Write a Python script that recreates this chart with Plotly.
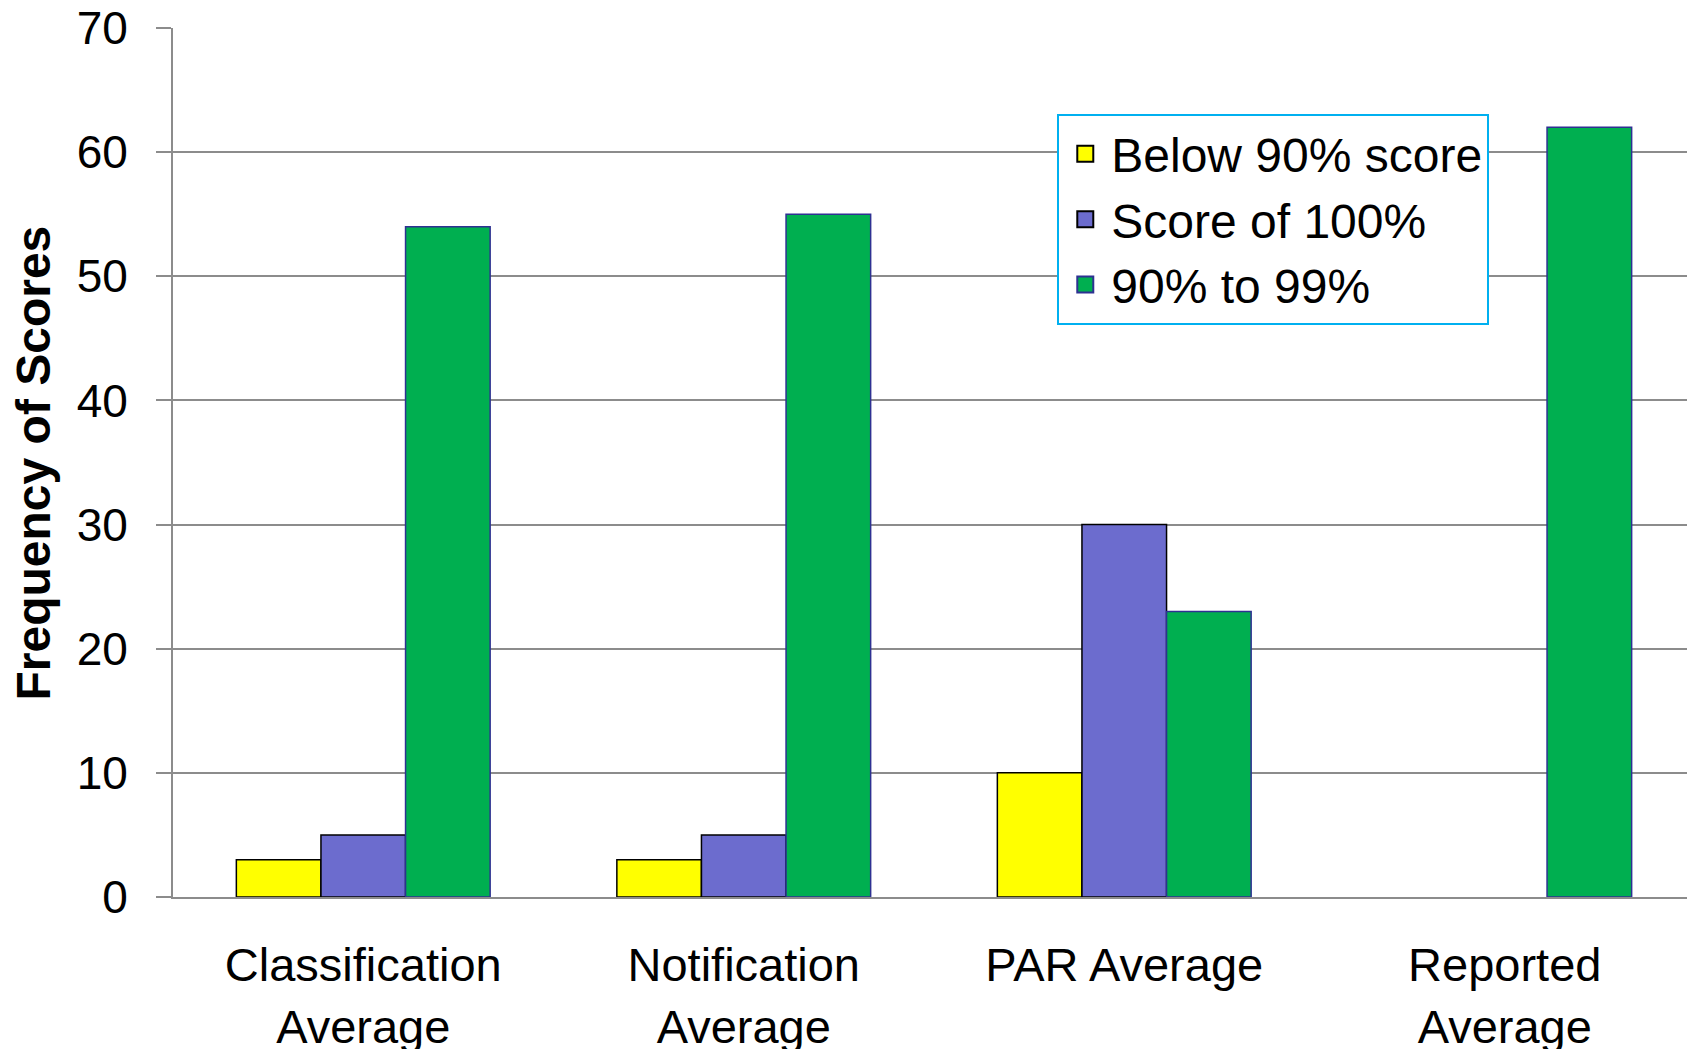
import plotly.graph_objects as go

categories = ["Classification<br>Average", "Notification<br>Average", "PAR Average", "Reported<br>Average"]
series_names = ["Below 90% score", "Score of 100%", "90% to 99%"]
below_90 = [3, 3, 10, None]
score_100 = [5, 5, 30, None]
p90_99 = [54, 55, 23, 62]
y_ticks = [0, 10, 20, 30, 40, 50, 60, 70]

FONT = "Arial, Liberation Sans, sans-serif"
GRID = "#8c8c8c"
fills = ["#FFFF00", "#6C6CCE", "#00AF50"]
edges = ["#000000", "#000000", "#2E3192"]

fig = go.Figure()
for name, vals, fc, ec in zip(series_names, [below_90, score_100, p90_99], fills, edges):
    fig.add_trace(go.Bar(name=name, x=categories, y=vals, showlegend=False, legendgroup=name,
                         marker=dict(color=fc, line=dict(color=ec, width=1.5))))
# legend entries with larger square swatches
for name, fc, ec in zip(series_names, fills, edges):
    fig.add_trace(go.Scatter(name=name, x=[None], y=[None], mode="markers", legendgroup=name,
                             marker=dict(symbol="square", size=22, color=fc,
                                         line=dict(color=ec, width=2))))

fig.update_layout(
    width=1687, height=1041,
    margin=dict(l=165, r=0, t=20, b=152),
    paper_bgcolor="white", plot_bgcolor="white",
    barmode="group", bargap=0.333, bargroupgap=0,
    font=dict(family=FONT, size=47, color="black"),
    showlegend=True,
    legend=dict(x=0.581, y=0.901, xanchor="left", yanchor="top",
                bordercolor="#00B0F0", borderwidth=2, bgcolor="white",
                font=dict(size=48), traceorder="normal", tracegroupgap=9,
                itemwidth=42),
    xaxis=dict(showgrid=False, showline=True, linecolor=GRID, linewidth=2,
               ticks="", tickfont=dict(size=47), ticklabelstandoff=26,
               range=[-0.5, 3.5], fixedrange=True, automargin=False),
    yaxis=dict(range=[0, 70], tickvals=y_ticks, showgrid=True, gridcolor=GRID, gridwidth=2,
               showline=True, linecolor=GRID, linewidth=2, ticks="outside", ticklen=15,
               tickcolor=GRID, tickwidth=2, tickfont=dict(size=46), ticklabelstandoff=19,
               ticklabeloverflow="allow", automargin=False, zeroline=False),
    annotations=[dict(text="<b>Frequency of Scores</b>", textangle=-90, xref="paper", yref="paper",
                      x=0, y=0.5, xanchor="center", yanchor="middle", xshift=-140, yshift=-1,
                      showarrow=False, font=dict(size=48, family=FONT))],
)

fig.write_html("out.html")
